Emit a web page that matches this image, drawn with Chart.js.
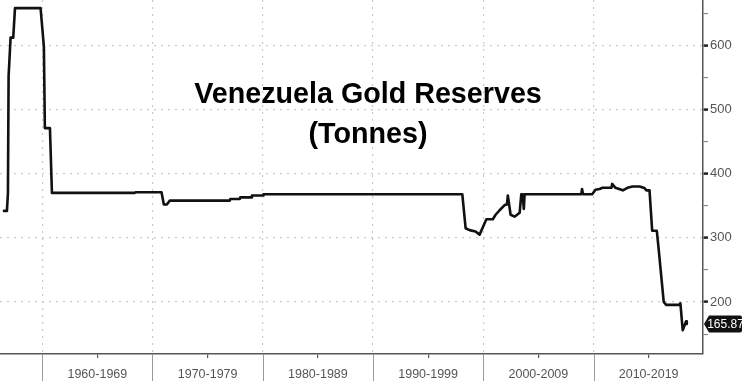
<!DOCTYPE html>
<html>
<head>
<meta charset="utf-8">
<script src="https://cdn.jsdelivr.net/npm/chart.js@4/dist/chart.umd.min.js"></script>
<style>
  html, body { margin: 0; padding: 0; background: #ffffff; }
  #wrap { width: 742px; height: 381px; }
</style>
</head>
<body>
<div id="wrap"><canvas id="c" width="742" height="381"></canvas></div>
<script>
// ---- data ----
const years = [
  1956.53, 1956.80, 1956.89, 1956.95, 1957.13, 1957.37, 1957.53, 1959.85, 1960.15, 1960.24,
  1960.70, 1960.88, 1968.40, 1968.45, 1970.82, 1971.03, 1971.30, 1971.57, 1977.01, 1977.05,
  1977.92, 1977.96, 1978.98, 1979.02, 1980.03, 1980.07, 1998.10, 1998.40, 1998.76, 1999.30,
  1999.67, 2000.28, 2000.87, 2001.12, 2001.48, 2001.94, 2002.15, 2002.23, 2002.48, 2002.84,
  2003.30, 2003.45, 2003.57, 2003.68, 2003.75, 2008.89, 2008.96, 2009.05, 2009.88, 2010.18,
  2010.55, 2010.82, 2011.63, 2011.69, 2011.99, 2012.66, 2013.08, 2013.53, 2014.17, 2014.62,
  2014.80, 2015.08, 2015.32, 2015.74, 2015.89, 2016.37, 2016.59, 2017.79, 2017.88, 2018.09,
  2018.40, 2018.46
];
const tonnes = [
  342, 342, 370, 552, 612, 612, 658, 658, 598, 471,
  471, 370, 370, 371, 371, 352, 352, 358, 358, 360.5,
  360.5, 363, 363, 366, 366, 368, 368, 315, 312, 310,
  305, 329, 329, 336, 343, 351, 352, 366, 336, 333,
  339, 368, 368, 345, 368, 368, 376, 368, 368, 375,
  376, 378, 378, 384, 378, 374, 378, 380, 380, 377.6,
  374, 374, 311, 311, 286, 200, 195.5, 195.5, 198, 156,
  170, 165.87
];
const lastValueLabel = "165.87";
const yTickValues = [150, 200, 250, 300, 350, 400, 450, 500, 550, 600, 650];
const decadeStarts = [1960, 1970, 1980, 1990, 2000, 2010];
const decadeLabels = ["1960-1969", "1970-1979", "1980-1989", "1990-1999", "2000-2009", "2010-2019"];
const titleLines = ["Venezuela Gold Reserves", "(Tonnes)"];

// ---- derived tick tables ----
const xTickValues = [];
const xTickText = {};
decadeStarts.forEach((d, i) => {
  xTickValues.push(d);
  xTickValues.push(d + 5);
  xTickText[d + 5] = decadeLabels[i];
});
xTickValues.sort((a, b) => a - b);

const narrow = "'Liberation Sans Narrow', 'Liberation Sans', Arial, sans-serif";

const decoPlugin = {
  id: 'deco',
  afterDraw(chart) {
    const ctx = chart.ctx;
    const xs = chart.scales.x, ys = chart.scales.y;
    const area = chart.chartArea;
    // decade separators below the axis
    ctx.save();
    ctx.strokeStyle = '#9a9a9a';
    ctx.lineWidth = 1;
    decadeStarts.forEach(d => {
      const px = Math.round(xs.getPixelForValue(d)) + 0.5;
      ctx.beginPath();
      ctx.moveTo(px, area.bottom);
      ctx.lineTo(px, chart.height);
      ctx.stroke();
    });
    ctx.restore();

    // title
    ctx.save();
    ctx.fillStyle = '#000';
    ctx.textAlign = 'center';
    ctx.textBaseline = 'alphabetic';
    ctx.font = "bold 28.7px 'Liberation Sans', Arial, sans-serif";
    ctx.fillText(titleLines[0], 368, 103);
    ctx.fillText(titleLines[1], 368, 143);
    ctx.restore();

    // last value tag
    const last = tonnes[tonnes.length - 1];
    const py = ys.getPixelForValue(last);
    const left = area.right + 1;
    ctx.save();
    ctx.fillStyle = '#111';
    ctx.beginPath();
    ctx.moveTo(left, py);
    ctx.lineTo(left + 5, py - 8.5);
    ctx.lineTo(chart.width - 2, py - 8.5);
    ctx.quadraticCurveTo(chart.width, py - 8.5, chart.width, py - 6.5);
    ctx.lineTo(chart.width, py + 6.5);
    ctx.quadraticCurveTo(chart.width, py + 8.5, chart.width - 2, py + 8.5);
    ctx.lineTo(left + 5, py + 8.5);
    ctx.closePath();
    ctx.fill();
    ctx.fillStyle = '#fff';
    ctx.font = "12px " + narrow;
    ctx.textAlign = 'center';
    ctx.textBaseline = 'middle';
    ctx.fillText(lastValueLabel, (left + 5 + chart.width) / 2, py + 0.5);
    ctx.restore();
  }
};

new Chart(document.getElementById('c'), {
  type: 'line',
  data: {
    datasets: [{
      data: years.map((x, i) => ({ x: x, y: tonnes[i] })),
      borderColor: '#111',
      borderWidth: 2.6,
      borderJoinStyle: 'round',
      borderCapStyle: 'round',
      pointRadius: 0,
      tension: 0,
      fill: false
    }]
  },
  options: {
    responsive: false,
    animation: false,
    devicePixelRatio: 1,
    layout: { padding: 0 },
    plugins: {
      legend: { display: false },
      tooltip: { enabled: false },
      title: { display: false }
    },
    scales: {
      x: {
        type: 'linear',
        min: 1956.17,
        max: 2019.93,
        afterBuildTicks: (s) => { s.ticks = xTickValues.map(v => ({ value: v })); },
        afterFit: (s) => { s.height = 27; s.paddingLeft = 0; s.paddingRight = 0; },
        ticks: {
          autoSkip: false,
          maxRotation: 0,
          padding: 9,
          color: '#555',
          font: { family: narrow, size: 12.5 },
          callback: (v) => xTickText[v] || ''
        },
        grid: {
          color: (c) => (c.tick && c.tick.value % 10 === 0) ? '#cacaca' : 'rgba(0,0,0,0)',
          lineWidth: 1.2,
          tickLength: 4,
          tickColor: (c) => (c.tick && c.tick.value % 10 === 0) ? 'rgba(0,0,0,0)' : '#555',
          tickWidth: 1.2,
          tickBorderDash: []
        },
        border: { display: true, color: '#555', width: 1.5, dash: [2, 5] }
      },
      y: {
        position: 'right',
        min: 119,
        max: 670.6,
        afterBuildTicks: (s) => { s.ticks = yTickValues.map(v => ({ value: v })); },
        afterFit: (s) => { s.width = 39; s.paddingTop = 0; s.paddingBottom = 0; },
        ticks: {
          padding: 2,
          color: '#555',
          font: { family: narrow, size: 13 },
          callback: (v) => (v % 100 === 0 ? String(v) : '')
        },
        grid: {
          color: (c) => (c.tick && c.tick.value % 100 === 0) ? '#cacaca' : 'rgba(0,0,0,0)',
          lineWidth: 1.2,
          tickLength: 5,
          tickColor: (c) => (c.tick && c.tick.value % 100 === 0) ? '#222' : '#777',
          tickWidth: (c) => (c.tick && c.tick.value % 100 === 0) ? 2.5 : 1,
          tickBorderDash: []
        },
        border: { display: true, color: '#555', width: 1.5, dash: [2, 5] }
      }
    }
  },
  plugins: [decoPlugin]
});
</script>
</body>
</html>
